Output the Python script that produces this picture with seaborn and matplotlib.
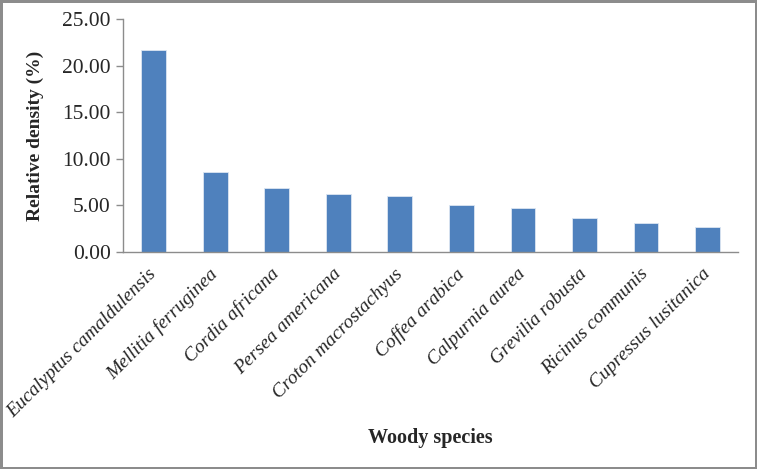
import numpy as np
import pandas as pd
import seaborn as sns
import matplotlib.pyplot as plt

# Data ---------------
species = ["Eucalyptus camaldulensis", "Mellitia ferruginea", "Cordia africana",
           "Persea americana", "Croton macrostachyus", "Coffea arabica",
           "Calpurnia aurea", "Grevilia robusta", "Ricinus communis",
           "Cupressus lusitanica"]
rel_density = [21.67, 8.62, 6.83, 6.26, 6.04, 5.04, 4.72, 3.62, 3.08, 2.68]

df = pd.DataFrame({"species": species, "density": rel_density})

sns.set_style("white")
plt.rcParams['font.family'] = ['Liberation Serif', 'DejaVu Serif']

fig = plt.figure(figsize=(7.57, 4.69), dpi=100)
fig.patch.set_edgecolor("#8c8c8c")
fig.patch.set_linewidth(2.5)
ax = fig.add_axes([0.1625, 0.4627, 0.8125, 0.4968])

sns.barplot(data=df, x="species", y="density", color="#4F81BD", saturation=1,
            width=0.4, edgecolor="#dce6f2", linewidth=0.6, ax=ax)

ax.set_ylim(0, 25)
ax.set_xlim(-0.5, len(species) - 0.5)
ax.set_yticks(np.arange(0, 25.1, 5))
ax.set_yticklabels([f"{v:.2f}" for v in np.arange(0, 25.1, 5)], fontsize=15.5)

ax.set_xticks(range(len(species)))
ax.set_xticklabels(species, rotation=45, ha="right", va="center",
                   rotation_mode="anchor", fontsize=14, style="italic")
ax.tick_params(axis="x", which="major", length=0, pad=14)
ax.set_xticks(np.arange(-0.5, len(species)), minor=True)
ax.tick_params(axis="x", which="minor", length=5, color="#8c8c8c", width=1, direction="out")
ax.tick_params(axis="y", length=5, color="#8c8c8c", width=1, direction="out", left=True, pad=4)

for s in ["top", "right"]:
    ax.spines[s].set_visible(False)
for s in ["left", "bottom"]:
    ax.spines[s].set_color("#8c8c8c")
    ax.spines[s].set_linewidth(1)

ax.set_ylabel("Relative density (%)", fontsize=14, fontweight="bold")
ax.yaxis.set_label_coords(-0.128, 0.5)
ax.set_xlabel("")
fig.text(0.569, 0.066, "Woody species", fontsize=14.5, fontweight="bold", ha="center", va="center")

fig.savefig("out.png", dpi=100)
